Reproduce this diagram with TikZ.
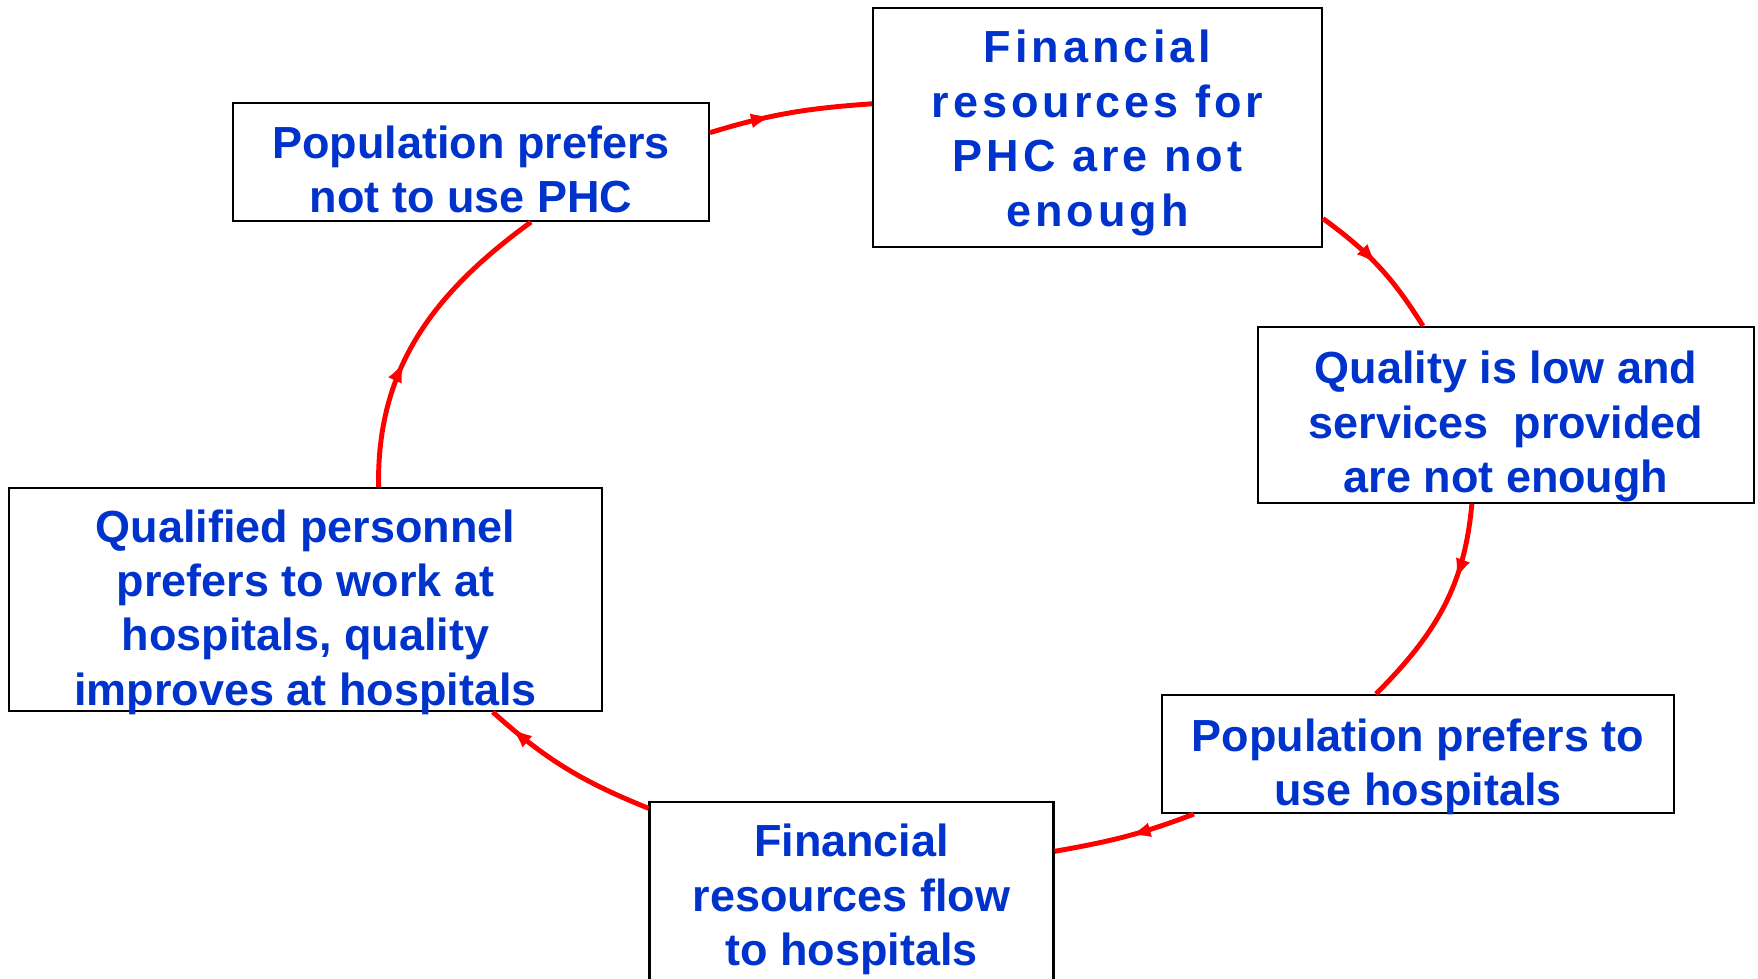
\documentclass[tikz,border=0pt]{standalone}
\usepackage{fontspec}
\setmainfont{Liberation Sans}
\newfontfamily\widesans[LetterSpace=9]{Liberation Sans}
\usetikzlibrary{arrows,decorations.markings}
\definecolor{phcblue}{RGB}{0,51,204}
\newcommand\lift[1]{\rule{0pt}{#1}}
\tikzset{
  >=latex,
  box/.style = {draw, line width=1.2pt, rectangle, align=center,
                inner sep=0, text=phcblue,
                font=\bfseries\fontsize{25.6}{31}\selectfont},
  flow/.style = {draw=red, line width=2.8pt, postaction={decorate},
                 decoration={markings,
                   mark=at position #1 with {\arrow[red]{latex}}}},
  flow/.default = 0.4
}

\begin{document}
\begin{tikzpicture}[x=0.02cm,y=0.02cm]
\useasboundingbox (0,0) rectangle (1758,979);
\clip (0,0) rectangle (1758,979);
\node[box, minimum width=9.52cm, minimum height=2.36cm] (PN) at (471,817)
  {\lift{27pt}Population prefers\\not to use PHC};
\node[box, minimum width=8.98cm, minimum height=4.78cm,
      font=\widesans\bfseries\fontsize{25.6}{31}\selectfont] (FP) at (1097.5,851.5)
  {\lift{25pt}Financial\\resources for\\PHC are not\\enough};
\node[box, minimum width=9.92cm, minimum height=3.52cm] (Q) at (1506,564)
  {\lift{32pt}Quality is low and\\services~ provided\\are not enough};
\node[box, minimum width=10.24cm, minimum height=2.36cm] (PH) at (1418,225)
  {\lift{27.6pt}Population prefers to\\\smash{use hospitals}};
\node[box, minimum width=8.08cm, minimum height=3.70cm] (FH) at (851.5,84.5)
  {\lift{24.5pt}Financial\\resources flow\\to hospitals};
\node[box, minimum width=11.86cm, minimum height=4.46cm] (QP) at (305.5,379.5)
  {\lift{27.6pt}Qualified personnel\\prefers to work at\\hospitals, quality\\\smash{improves at hospitals}};
\path (PN.7)   edge[flow=0.38, out=17, in=184] (FP.174)
      (FP.-22) edge[flow=0.47, out=-36, in=122] (Q.133)
      (Q.-111) edge[flow=0.35, out=-95, in=45] (PH.125)
      (PH.195) edge[flow=0.46, out=201, in=10] (FH.12)
      (FH.157) edge[flow=0.86, out=158, in=-42] (QP.-31)
      (QP.57)  edge[flow=0.4, out=91, in=216] (PN.-45);
\end{tikzpicture}
\end{document}
